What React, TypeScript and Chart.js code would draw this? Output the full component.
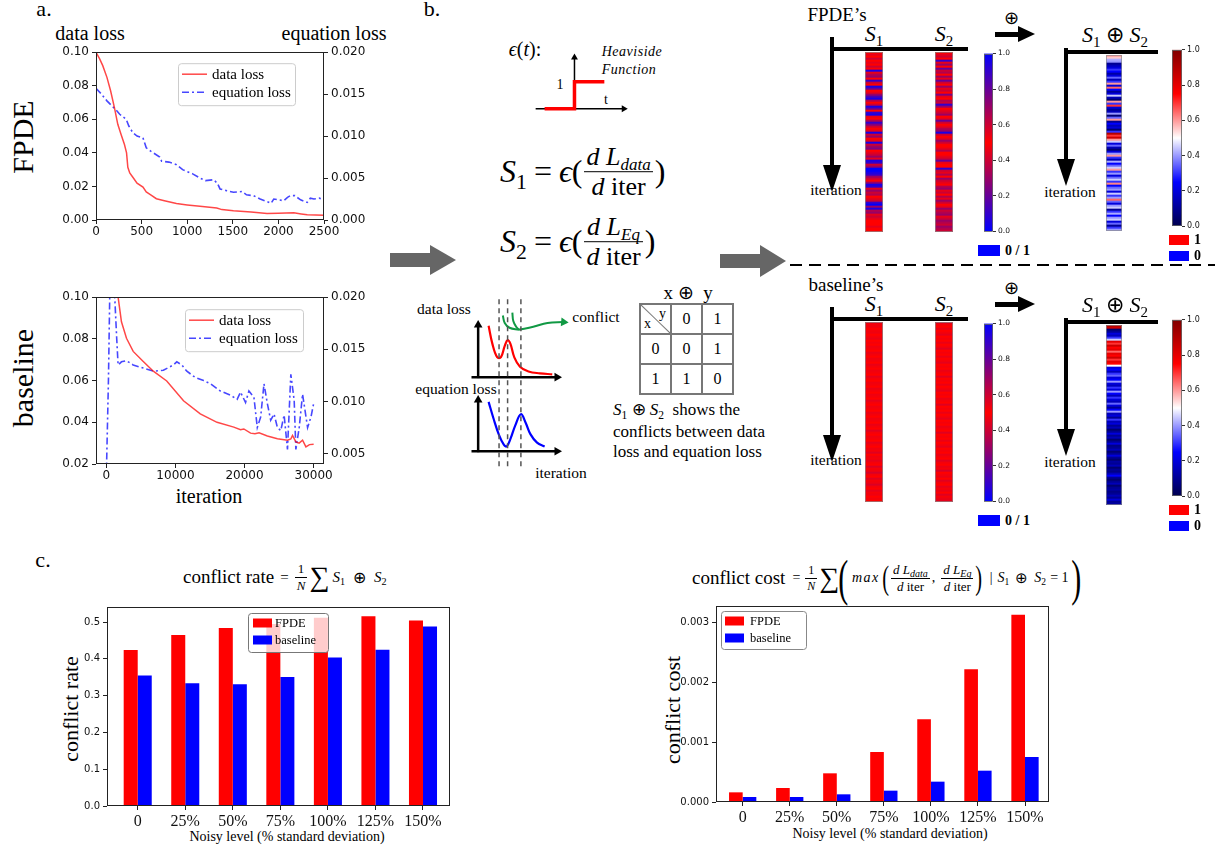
import React, { useEffect, useRef } from 'react';
import { Chart, registerables } from 'chart.js';
Chart.register(...registerables);

const SERIF = "'Liberation Serif', 'Times New Roman', serif";
const SANS = "'DejaVu Sans', sans-serif";

// ---------------- panel a: FPDE loss curves ----------------
const fpdeDataIter = [0, 40, 74, 120, 160, 202, 239, 275, 312, 335, 349, 370, 404, 450, 515, 551, 600, 662, 750, 882, 1000, 1140, 1324, 1380, 1507, 1700, 1875, 2000, 2169, 2250, 2316, 2500];
const fpdeDataLoss = [0.100, 0.096, 0.092, 0.085, 0.077, 0.067, 0.057, 0.051, 0.045, 0.040, 0.0314, 0.028, 0.0255, 0.022, 0.0196, 0.0167, 0.015, 0.0127, 0.0115, 0.0098, 0.009, 0.0082, 0.0072, 0.0062, 0.0055, 0.0047, 0.0039, 0.004, 0.0043, 0.0036, 0.0031, 0.0029];
const fpdeEqIter = [0, 60, 120, 184, 230, 260, 331, 360, 404, 450, 515, 551, 600, 699, 720, 800, 882, 950, 993, 1060, 1140, 1200, 1287, 1330, 1360, 1430, 1507, 1600, 1650, 1728, 1800, 1875, 1920, 1949, 2000, 2059, 2100, 2132, 2180, 2243, 2316, 2350, 2390, 2450, 2500];
const fpdeEqLoss = [0.0157, 0.0150, 0.0142, 0.0135, 0.0130, 0.0126, 0.0120, 0.0112, 0.0104, 0.0100, 0.0098, 0.0086, 0.0082, 0.0075, 0.0070, 0.0069, 0.0066, 0.0060, 0.0058, 0.0055, 0.0050, 0.0047, 0.0048, 0.0044, 0.0037, 0.0035, 0.0033, 0.0034, 0.0030, 0.0029, 0.0025, 0.0022, 0.0020, 0.0025, 0.0024, 0.0023, 0.0027, 0.0029, 0.0029, 0.0024, 0.0021, 0.0026, 0.0025, 0.0026, 0.0024];

// ---------------- panel a: baseline loss curves ----------------
const baseDataIter = [800, 1700, 2184, 2913, 3883, 5340, 6796, 8738, 11165, 13592, 16019, 18447, 19417, 19900, 20874, 21500, 22100, 23301, 24757, 26214, 26700, 26942, 27427, 27900, 28398, 28883, 29400, 30000];
const baseDataLoss = [0.14, 0.100, 0.0882, 0.0803, 0.0740, 0.0692, 0.0645, 0.0598, 0.0503, 0.0440, 0.0400, 0.0377, 0.0364, 0.0368, 0.0348, 0.0345, 0.0350, 0.0334, 0.0321, 0.0314, 0.0320, 0.0337, 0.0306, 0.0300, 0.0314, 0.0282, 0.0293, 0.0295];
const baseEqIter = [0, 300, 485, 700, 1000, 1213, 1500, 1700, 2184, 2913, 3883, 5340, 6796, 8252, 9709, 10194, 10922, 11650, 12864, 14077, 15048, 16505, 17961, 18932, 19417, 20146, 20631, 21359, 21845, 22330, 22816, 23301, 23786, 24272, 24757, 25243, 25728, 26214, 26699, 27184, 27427, 27913, 28398, 29126, 29612, 30000];
const baseEqLoss = [0.0030, 0.0120, 0.0200, 0.0240, 0.0220, 0.0200, 0.0160, 0.0135, 0.0138, 0.0139, 0.0135, 0.0132, 0.0129, 0.0130, 0.0135, 0.0138, 0.0135, 0.0129, 0.0123, 0.0120, 0.0117, 0.0110, 0.0106, 0.0102, 0.0109, 0.0099, 0.0110, 0.0104, 0.0075, 0.0085, 0.0117, 0.0098, 0.0082, 0.0088, 0.0075, 0.0072, 0.0087, 0.0054, 0.0126, 0.0101, 0.0054, 0.0075, 0.0107, 0.0075, 0.0085, 0.0098];

const fpdeXTicks = [0, 500, 1000, 1500, 2000, 2500];
const fpdeYTicks = [0, 0.02, 0.04, 0.06, 0.08, 0.10];
const fpdeY1Ticks = [0, 0.005, 0.01, 0.015, 0.02];
const baseXTicks = [0, 10000, 20000, 30000];
const baseYTicks = [0.02, 0.04, 0.06, 0.08, 0.10];
const baseY1Ticks = [0.005, 0.01, 0.015, 0.02];

// ---------------- panel c: bars ----------------
const noiseLevels = ['0', '25%', '50%', '75%', '100%', '125%', '150%'];
const rateFPDE = [0.424, 0.465, 0.484, 0.495, 0.512, 0.516, 0.504];
const rateBaseline = [0.355, 0.334, 0.331, 0.351, 0.404, 0.425, 0.488];
const costFPDE = [0.000161, 0.000233, 0.000478, 0.000833, 0.001378, 0.002211, 0.003122];
const costBaseline = [0.000083, 0.000083, 0.000128, 0.000189, 0.000339, 0.000522, 0.00075];
const rateTicks = [0, 0.1, 0.2, 0.3, 0.4, 0.5];
const costTicks = [0, 0.001, 0.002, 0.003];
const cbarTicks = [0, 0.2, 0.4, 0.6, 0.8, 1.0];

// ---------------- panel b: stripes (values on the colour maps) ----------------
const fpdeS1 = [0.5, 0.45, 0.5, 0.4, 0.5, 0.45, 0.5, 0.4, 0.5, 0.05, 0.45, 0.35, 0.3, 0.5, 0.1, 0.4, 0.5, 0.05, 0.2, 0.5, 0.45, 0.3, 0.15, 0.05, 0.35, 0.5, 0.4, 0.05, 0.2, 0.5, 0.1, 0.05, 0.45, 0.5, 0.35, 0.1, 0.25, 0.4, 0.5, 0.45, 0.05, 0.4, 0.3, 0.5, 0.45, 0.05, 0.4, 0.3, 0.25, 0.5, 0.45, 0.4, 0.3, 0.45, 0.05, 0.1, 0.4, 0.3, 0.0, 0.0, 0.05, 0.1, 0.3, 0.4, 0.5, 0.3, 0.05, 0.1, 0.45, 0.3, 0.4, 0.35, 0.5, 0.45, 0.4, 0.1, 0.0, 0.3, 0.05, 0.35, 0.3, 0.45, 0.4, 0.45, 0.5, 0.5, 0.5, 0.45, 0.5, 0.5];
const fpdeS2 = [0.5, 0.45, 0.4, 0.5, 0.1, 0.45, 0.3, 0.5, 0.2, 0.4, 0.35, 0.5, 0.3, 0.45, 0.2, 0.4, 0.5, 0.3, 0.45, 0.4, 0.5, 0.25, 0.45, 0.5, 0.35, 0.4, 0.1, 0.3, 0.5, 0.45, 0.4, 0.3, 0.5, 0.45, 0.2, 0.4, 0.5, 0.45, 0.35, 0.3, 0.05, 0.4, 0.5, 0.45, 0.3, 0.4, 0.5, 0.5, 0.45, 0.35, 0.5, 0.5, 0.45, 0.4, 0.2, 0.45, 0.5, 0.5, 0.1, 0.4, 0.45, 0.35, 0.5, 0.3, 0.4, 0.45, 0.5, 0.35, 0.3, 0.45, 0.4, 0.5, 0.35, 0.45, 0.3, 0.4, 0.5, 0.45, 0.3, 0.4, 0.35, 0.3, 0.45, 0.4, 0.3, 0.35, 0.4, 0.3, 0.35, 0.4];
const fpdeXor = [0.6, 0.55, 0.42, 0.4, 0.1, 0.15, 0.2, 0.3, 0.25, 0.12, 0.2, 0.35, 0.15, 0.3, 0.6, 0.2, 0.65, 0.25, 0.1, 0.2, 0.45, 0.15, 0.05, 0.6, 0.3, 0.7, 0.2, 0.1, 0.15, 0.4, 0.05, 0.35, 0.6, 0.1, 0.25, 0.15, 0.2, 0.05, 0.3, 0.9, 0.7, 0.85, 0.6, 0.45, 0.2, 0.35, 0.15, 0.05, 0.2, 0.4, 0.6, 0.3, 0.15, 0.42, 0.25, 0.35, 0.45, 0.6, 0.3, 0.4, 0.2, 0.35, 0.45, 0.3, 0.62, 0.25, 0.35, 0.4, 0.2, 0.45, 0.3, 0.4, 0.65, 0.35, 0.2, 0.4, 0.45, 0.1, 0.3, 0.42, 0.25, 0.4, 0.45, 0.2, 0.35, 0.1, 0.3, 0.4];
const baseS1 = [0.46, 0.48, 0.47, 0.5, 0.48, 0.47, 0.5, 0.48, 0.46, 0.5, 0.48, 0.5, 0.47, 0.48, 0.5, 0.46, 0.48, 0.5, 0.47, 0.48, 0.5, 0.46, 0.48, 0.5, 0.47, 0.48, 0.5, 0.45, 0.48, 0.5, 0.47, 0.48, 0.5, 0.46, 0.48, 0.5, 0.47, 0.48, 0.5, 0.45, 0.48, 0.5, 0.47, 0.48, 0.5, 0.46, 0.48, 0.5, 0.47, 0.48, 0.5, 0.46, 0.48, 0.5, 0.44, 0.48, 0.5, 0.47, 0.48, 0.5, 0.45, 0.48, 0.5, 0.47, 0.48, 0.44, 0.5, 0.47, 0.48, 0.45, 0.48, 0.5, 0.43, 0.48, 0.47, 0.42, 0.48, 0.5, 0.44, 0.48, 0.47, 0.43, 0.48, 0.5, 0.45, 0.48, 0.47, 0.5, 0.48, 0.5];
const baseS2 = [0.44, 0.48, 0.5, 0.46, 0.5, 0.48, 0.45, 0.5, 0.48, 0.5, 0.46, 0.5, 0.48, 0.44, 0.5, 0.48, 0.5, 0.46, 0.5, 0.48, 0.45, 0.5, 0.48, 0.5, 0.46, 0.48, 0.5, 0.44, 0.5, 0.48, 0.5, 0.46, 0.5, 0.48, 0.45, 0.5, 0.48, 0.5, 0.46, 0.48, 0.5, 0.44, 0.5, 0.48, 0.5, 0.46, 0.5, 0.48, 0.45, 0.5, 0.48, 0.5, 0.46, 0.48, 0.5, 0.44, 0.5, 0.48, 0.5, 0.46, 0.5, 0.48, 0.45, 0.5, 0.48, 0.5, 0.46, 0.48, 0.5, 0.44, 0.48, 0.5, 0.46, 0.48, 0.42, 0.5, 0.48, 0.46, 0.5, 0.44, 0.48, 0.5, 0.45, 0.48, 0.46, 0.5, 0.44, 0.48, 0.46, 0.45];
const baseXor = [0.9, 0.85, 0.05, 0.1, 0.2, 0.15, 0.3, 0.45, 0.8, 0.7, 0.85, 0.75, 0.8, 0.65, 0.8, 0.75, 0.85, 0.7, 0.8, 0.75, 0.5, 0.2, 0.25, 0.15, 0.3, 0.35, 0.2, 0.25, 0.4, 0.2, 0.15, 0.3, 0.2, 0.4, 0.25, 0.15, 0.3, 0.2, 0.15, 0.35, 0.2, 0.1, 0.25, 0.4, 0.15, 0.2, 0.1, 0.3, 0.15, 0.2, 0.1, 0.15, 0.05, 0.1, 0.2, 0.1, 0.15, 0.05, 0.1, 0.2, 0.08, 0.1, 0.15, 0.05, 0.1, 0.2, 0.1, 0.05, 0.12, 0.1, 0.15, 0.05, 0.1, 0.08, 0.15, 0.25, 0.1, 0.05, 0.1, 0.15, 0.05, 0.1, 0.12, 0.08, 0.1, 0.15, 0.1, 0.2, 0.1, 0.12];

// ---------------- panel b: schematic sketches ----------------
const heavisideT = [-1, 0, 0, 1];
const heavisideV = [0, 0, 1, 1];
const sketchDataLoss = [[88, 43], [92, 62], [97, 76], [101, 76], [105, 64], [108, 58], [111, 62], [115, 76], [121, 86], [130, 91], [142, 93], [155, 94]];
const sketchEqLoss = [[88, 123], [93, 140], [99, 158], [104, 168], [107, 170], [111, 162], [116, 148], [122, 136], [127, 145], [132, 157], [139, 166], [147, 170]];
const sketchConflictA = [[103, 32], [105, 40], [110, 45], [120, 47]];
const sketchConflictB = [[113, 29], [114, 38], [117, 44], [120, 47]];
const sketchConflictArrow = [[120, 47], [135, 44], [150, 40], [167, 39]];
const sketchMarks = [99, 108, 122];
const xorRows = [['0', '0', '1'], ['1', '1', '0']];

type RGB = [number, number, number];
const stripeStops: [number, RGB][] = [[0, [0, 0, 255]], [0.5, [255, 0, 0]], [1, [0, 0, 255]]];
const seismicStops: [number, RGB][] = [[0, [0, 0, 77]], [0.25, [0, 0, 255]], [0.5, [255, 255, 255]], [0.75, [255, 0, 0]], [1, [128, 0, 0]]];

function colorAt(stops: [number, RGB][], v: number) {
  for (let i = 1; i < stops.length; i++) {
    if (v <= stops[i][0]) {
      const [a, ca] = stops[i - 1];
      const [b, cb] = stops[i];
      const t = (v - a) / (b - a);
      return `rgb(${ca.map((c, k) => Math.round(c + (cb[k] - c) * t)).join(',')})`;
    }
  }
  return `rgb(${stops[stops.length - 1][1].join(',')})`;
}

// ---------------- chart helpers ----------------
const framePlugin = (color = '#222', width = 1) => ({
  id: 'frame',
  afterDraw(chart: any) {
    const { ctx, chartArea: a } = chart;
    ctx.save();
    ctx.strokeStyle = color;
    ctx.lineWidth = width;
    ctx.strokeRect(Math.round(a.left) + 0.5, Math.round(a.top) + 0.5, Math.round(a.right - a.left) - 1, Math.round(a.bottom - a.top) - 1);
    ctx.restore();
  },
});

const boxLegend = (cfg: any) => ({
  id: 'boxLegend',
  afterDraw(chart: any) {
    const { ctx, chartArea: a } = chart;
    const x = a.left + cfg.x, y = a.top + cfg.y;
    ctx.save();
    ctx.beginPath();
    ctx.roundRect(x + 0.5, y + 0.5, cfg.w, cfg.h, 3);
    ctx.fillStyle = 'rgba(255,255,255,0.8)';
    ctx.fill();
    ctx.strokeStyle = cfg.border;
    ctx.lineWidth = 1;
    ctx.stroke();
    ctx.font = `${cfg.size}px ${SERIF}`;
    ctx.textBaseline = 'middle';
    chart.data.datasets.forEach((ds: any, i: number) => {
      const ry = y + cfg.padTop + i * cfg.rowH;
      const sx = x + cfg.padLeft;
      if (cfg.kind === 'line') {
        ctx.strokeStyle = ds.borderColor;
        ctx.lineWidth = ds.borderWidth;
        ctx.setLineDash(ds.borderDash || []);
        ctx.beginPath();
        ctx.moveTo(sx, ry);
        ctx.lineTo(sx + cfg.sw, ry);
        ctx.stroke();
        ctx.setLineDash([]);
      } else {
        ctx.fillStyle = ds.backgroundColor;
        ctx.fillRect(sx, ry - cfg.sh / 2, cfg.sw, cfg.sh);
      }
      ctx.fillStyle = '#000';
      ctx.fillText(ds.label, sx + cfg.sw + cfg.gap, ry + 1);
    });
    ctx.restore();
  },
});

function linAxis(pos: string, min: number, max: number, ticks: number[], fmt: (v: number) => string, size: number, font: any, pad = 3) {
  return {
    type: 'linear', position: pos, min, max, offset: false,
    afterBuildTicks: (s: any) => { s.ticks = ticks.map((v) => ({ value: v })); },
    afterFit: (s: any) => { if (pos === 'bottom') s.height = size; else s.width = size; },
    ticks: { autoSkip: false, maxRotation: 0, minRotation: 0, color: '#111', font, padding: pad, callback: (v: any) => fmt(Number(v)) },
    grid: { display: true, drawOnChartArea: false, drawTicks: true, tickLength: 4, color: '#222', offset: false },
    border: { display: false },
  };
}

function lossConfig(o: any) {
  return {
    type: 'line',
    data: {
      datasets: [
        { label: 'data loss', data: o.dx.map((x: number, i: number) => ({ x, y: o.dy[i] })), yAxisID: 'y', borderColor: 'rgba(255,0,0,0.72)', borderWidth: 1.5, pointRadius: 0, tension: 0 },
        { label: 'equation loss', data: o.ex.map((x: number, i: number) => ({ x, y: o.ey[i] })), yAxisID: 'y1', borderColor: 'rgba(0,0,255,0.72)', borderWidth: 1.6, borderDash: [7, 3, 2, 3], pointRadius: 0, tension: 0 },
      ],
    },
    options: {
      responsive: false, animation: false,
      layout: { padding: { top: 8, left: 0, right: 0, bottom: 0 } },
      plugins: { legend: { display: false }, tooltip: { enabled: false } },
      scales: {
        x: linAxis('bottom', o.xMin, o.xMax, o.xTicks, (v) => String(v), o.xH, { family: SANS, size: 12 }, 1),
        y: linAxis('left', o.yMin, o.yMax, o.yTicks, (v) => v.toFixed(2), 56, { family: SANS, size: 12 }),
        y1: linAxis('right', o.y1Min, o.y1Max, o.y1Ticks, (v) => v.toFixed(3), 56, { family: SANS, size: 12 }),
      },
    },
    plugins: [framePlugin('#222'), boxLegend({ ...o.legend, kind: 'line', size: 15, border: '#ccc', padLeft: 4, sw: 25, gap: 5, padTop: 11, rowH: 18 })],
  };
}

function barConfig(o: any) {
  const xs = noiseLevels.map((_, i) => i);
  return {
    type: 'bar',
    data: {
      datasets: [
        { label: 'FPDE', data: o.a.map((y: number, x: number) => ({ x, y })), backgroundColor: '#ff0000', categoryPercentage: o.cp, barPercentage: 1 },
        { label: 'baseline', data: o.b.map((y: number, x: number) => ({ x, y })), backgroundColor: '#0000ff', categoryPercentage: o.cp, barPercentage: 1 },
      ],
    },
    options: {
      responsive: false, animation: false,
      layout: { padding: { top: 10, right: 10, left: 0, bottom: 0 } },
      plugins: { legend: { display: false }, tooltip: { enabled: false } },
      scales: {
        x: linAxis('bottom', o.xMin, o.xMax, xs, (v) => noiseLevels[Math.round(v)], o.xH, { family: SERIF, size: 16 }, 2),
        y: linAxis('left', 0, o.yMax, o.yTicks, o.fmt, o.leftW, { family: SANS, size: 10 }),
      },
    },
    plugins: [framePlugin('#222'), boxLegend({ ...o.legend, kind: 'rect', size: 12.5, sh: 9, sw: 19, rowH: 17 })],
  };
}

function stripeConfig(vals: number[], stops: [number, RGB][]) {
  return {
    type: 'bar',
    data: {
      labels: vals.map((_, i) => String(i)),
      datasets: [{ data: vals.map(() => 1), backgroundColor: vals.map((v) => colorAt(stops, v)), categoryPercentage: 1, barPercentage: 1, borderWidth: 0 }],
    },
    options: {
      indexAxis: 'y', responsive: false, animation: false,
      layout: { padding: 0 },
      plugins: { legend: { display: false }, tooltip: { enabled: false } },
      scales: { x: { display: false, min: 0, max: 1 }, y: { display: false } },
    },
    plugins: [framePlugin('rgba(140,140,140,0.7)', 1)],
  };
}

function cbarConfig(stops: [number, RGB][], size: number) {
  return {
    type: 'bar',
    data: {
      labels: [''],
      datasets: [{
        data: [1],
        backgroundColor: (c: any) => {
          const a = c.chart.chartArea;
          if (!a) return '#00f';
          const g = c.chart.ctx.createLinearGradient(0, a.bottom, 0, a.top);
          stops.forEach(([o, col]) => g.addColorStop(o, `rgb(${col.join(',')})`));
          return g;
        },
        categoryPercentage: 1, barPercentage: 1, borderWidth: 0,
      }],
    },
    options: {
      responsive: false, animation: false,
      layout: { padding: { top: 5, bottom: 5, left: 0, right: 0 } },
      plugins: { legend: { display: false }, tooltip: { enabled: false } },
      scales: {
        x: { display: false },
        y: { ...linAxis('right', 0, 1, cbarTicks, (v) => v.toFixed(1), 24, { family: SANS, size }, 2), grid: { display: true, drawOnChartArea: false, tickLength: 3, color: '#333' } },
      },
    },
    plugins: [framePlugin('#666', 0.8)],
  };
}

function sketchConfig(lines: any[], xMin: number, xMax: number, yMin: number, yMax: number, reverse: boolean) {
  return {
    type: 'scatter',
    data: {
      datasets: lines.map((l) => ({
        data: l.pts.map(([x, y]: number[]) => ({ x, y })),
        showLine: true,
        borderColor: l.color, borderWidth: l.width, borderDash: l.dash || [],
        tension: l.tension || 0,
        pointRadius: l.pts.map((_: any, i: number) => (l.arrow !== undefined && i === l.pts.length - 1 ? (l.head || 5) : 0)),
        pointStyle: 'triangle', pointRotation: l.arrow || 0,
        pointBackgroundColor: l.color, pointBorderColor: l.color, pointBorderWidth: 0,
        clip: false,
      })),
    },
    options: {
      responsive: false, animation: false,
      layout: { padding: 0 },
      plugins: { legend: { display: false }, tooltip: { enabled: false } },
      scales: {
        x: { type: 'linear', display: false, min: xMin, max: xMax },
        y: { type: 'linear', display: false, min: yMin, max: yMax, reverse },
      },
    },
  };
}

function ChartBox({ x, y, w, h, make }: any) {
  const ref = useRef<HTMLCanvasElement>(null);
  useEffect(() => {
    const chart = new Chart(ref.current as any, make());
    return () => chart.destroy();
  }, []);
  return (
    <div style={{ position: 'absolute', left: x, top: y, width: w, height: h }}>
      <canvas ref={ref} width={w} height={h} style={{ width: w, height: h, display: 'block' }} />
    </div>
  );
}

// ---------------- HTML helpers ----------------
function Cen({ cx, cy, s = 16, rot = 0, children, style }: any) {
  return (
    <div style={{ position: 'absolute', left: cx, top: cy, transform: `translate(-50%,-50%) rotate(${rot}deg)`, fontSize: s, lineHeight: 1, whiteSpace: 'nowrap', fontFamily: SERIF, ...style }}>
      {children}
    </div>
  );
}
function Box({ x, y, w, h, bg, style }: any) {
  return <div style={{ position: 'absolute', left: x, top: y, width: w, height: h, background: bg, ...style }} />;
}
function VArrow({ x, y1, y2, w = 4, hw = 18, hh = 27, color = '#000' }: any) {
  return (
    <>
      <Box x={x - w / 2} y={y1} w={w} h={y2 - y1 - hh + 2} bg={color} />
      <div style={{ position: 'absolute', left: x - hw / 2, top: y2 - hh, width: 0, height: 0, borderLeft: `${hw / 2}px solid transparent`, borderRight: `${hw / 2}px solid transparent`, borderTop: `${hh}px solid ${color}` }} />
    </>
  );
}
function HArrow({ x1, x2, y, w = 4, hw = 16, hh = 18, color = '#000' }: any) {
  return (
    <>
      <Box x={x1} y={y - w / 2} w={x2 - x1 - hh + 2} h={w} bg={color} />
      <div style={{ position: 'absolute', left: x2 - hh, top: y - hw / 2, width: 0, height: 0, borderTop: `${hw / 2}px solid transparent`, borderBottom: `${hw / 2}px solid transparent`, borderLeft: `${hh}px solid ${color}` }} />
    </>
  );
}
function SI({ n, s }: any) {
  return (
    <span style={{ fontSize: s, whiteSpace: 'nowrap' }}>
      <i>S</i>
      <span style={{ fontSize: s * 0.68, position: 'relative', top: s * 0.22 }}>{n}</span>
    </span>
  );
}
function Frac({ num, den, size, margin = '0 2px' }: any) {
  return (
    <span style={{ display: 'inline-flex', flexDirection: 'column', alignItems: 'center', fontSize: size, lineHeight: 1.05, margin }}>
      <span style={{ padding: '0 2px 1px' }}>{num}</span>
      <span style={{ alignSelf: 'stretch', borderTop: '1.3px solid #000' }} />
      <span style={{ padding: '1px 2px 0' }}>{den}</span>
    </span>
  );
}
function Paren({ s, ch, m = -4 }: any) {
  return <span style={{ fontSize: s, lineHeight: 1, transform: 'scaleX(0.6)', display: 'inline-block', margin: `0 ${m}px` }}>{ch}</span>;
}
function Patch({ x, y, w, h, color, label }: any) {
  return (
    <>
      <Box x={x} y={y} w={w} h={h} bg={color} />
      <div style={{ position: 'absolute', left: x + w + 5, top: y + h / 2, transform: 'translateY(-50%)', fontFamily: SERIF, fontWeight: 'bold', fontSize: 14, lineHeight: 1, whiteSpace: 'nowrap' }}>{label}</div>
    </>
  );
}

function HeatBlock({ dy, s1, s2, xor, label }: any) {
  return (
    <>
      <Cen cx={label === 'FPDE' ? 837 : 846} cy={14 + dy} s={19}>{label === 'FPDE' ? 'FPDE’s' : 'baseline’s'}</Cen>
      <Cen cx={874} cy={34 + dy} s={22}><SI n="1" s={22} /></Cen>
      <Cen cx={944} cy={34 + dy} s={22}><SI n="2" s={22} /></Cen>
      <VArrow x={832} y1={37 + dy} y2={192 + dy} />
      <Box x={832} y={47 + dy} w={136} h={4} bg="#000" />
      <Cen cx={836} cy={190 + dy} s={15.5}>iteration</Cen>
      <Cen cx={1011} cy={18 + dy} s={18}>⊕</Cen>
      <HArrow x1={995} x2={1035} y={34 + dy} w={5} hw={16} hh={17} />
      <Cen cx={1115} cy={35 + dy} s={22}><SI n="1" s={22} /> ⊕ <SI n="2" s={22} /></Cen>
      <VArrow x={1066} y1={48 + dy} y2={186 + dy} />
      <Box x={1066} y={50 + dy} w={92} h={4} bg="#000" />
      <Cen cx={1070} cy={192 + dy} s={15.5}>iteration</Cen>
      <ChartBox x={865} y={52 + dy} w={18} h={180} make={() => stripeConfig(s1, stripeStops)} />
      <ChartBox x={935} y={52 + dy} w={18} h={180} make={() => stripeConfig(s2, stripeStops)} />
      <ChartBox x={984} y={47 + dy} w={33} h={191} make={() => cbarConfig(stripeStops, 7.5)} />
      <ChartBox x={1106} y={55 + dy} w={16} h={xor.length * 2} make={() => stripeConfig(xor, seismicStops)} />
      <ChartBox x={1172} y={43 + dy} w={34} h={190} make={() => cbarConfig(seismicStops, 8)} />
      <Patch x={978} y={245 + dy} w={22} h={11} color="#0000ff" label="0 / 1" />
      <Patch x={1169} y={235 + dy} w={20} h={10} color="#ff0000" label="1" />
      <Patch x={1169} y={251 + dy} w={20} h={10} color="#0000ff" label="0" />
    </>
  );
}

export default function App() {
  const cell = { display: 'flex', alignItems: 'center', justifyContent: 'center', borderRight: '2px solid #777', borderBottom: '2px solid #777', fontSize: 16 } as any;
  return (
    <div style={{ position: 'absolute', left: 0, top: 0, width: 1226, height: 850, background: '#fff', overflow: 'hidden', fontFamily: SERIF, color: '#000' }}>
      {/* ---------- panel a ---------- */}
      <Cen cx={44} cy={9} s={22}>a.</Cen>
      <Cen cx={90} cy={33} s={20}>data loss</Cen>
      <Cen cx={334} cy={33} s={20}>equation loss</Cen>
      <Cen cx={23} cy={137} s={30} rot={-90}>FPDE</Cen>
      <Cen cx={23} cy={378} s={30} rot={-90}>baseline</Cen>
      <Cen cx={209} cy={496} s={20}>iteration</Cen>
      <ChartBox x={40} y={42} w={340} h={200} make={() => lossConfig({
        dx: fpdeDataIter, dy: fpdeDataLoss, ex: fpdeEqIter, ey: fpdeEqLoss,
        xMin: 0, xMax: 2500, xTicks: fpdeXTicks, xH: 22,
        yMin: 0, yMax: 0.1, yTicks: fpdeYTicks, y1Min: 0, y1Max: 0.02, y1Ticks: fpdeY1Ticks,
        legend: { x: 82, y: 11, w: 117, h: 42 },
      })} />
      <ChartBox x={40} y={287} w={340} h={200} make={() => lossConfig({
        dx: baseDataIter, dy: baseDataLoss, ex: baseEqIter, ey: baseEqLoss,
        xMin: -1500, xMax: 31500, xTicks: baseXTicks, xH: 23,
        yMin: 0.02, yMax: 0.1, yTicks: baseYTicks, y1Min: 0.004, y1Max: 0.02, y1Ticks: baseY1Ticks,
        legend: { x: 89, y: 12, w: 118, h: 42 },
      })} />

      {/* ---------- panel b (middle) ---------- */}
      <Cen cx={432} cy={9} s={22}>b.</Cen>
      <Cen cx={525} cy={49} s={20}><i>ϵ</i>(<i>t</i>):</Cen>
      <Cen cx={632} cy={52} s={14} style={{ fontStyle: 'italic', letterSpacing: 0.5 }}>Heaviside</Cen>
      <Cen cx={629} cy={70} s={14} style={{ fontStyle: 'italic', letterSpacing: 0.5 }}>Function</Cen>
      <Cen cx={560} cy={85} s={14}>1</Cen>
      <Cen cx={606} cy={100} s={14}>t</Cen>
      <ChartBox x={520} y={40} w={120} h={80} make={() => sketchConfig([
        { pts: heavisideT.map((t, i) => [t, heavisideV[i]]), color: '#ff0000', width: 3.5 },
        { pts: [[-1.3, 0], [1.65, 0]], color: '#000', width: 1.5, arrow: 90, head: 4 },
        { pts: [[0, 0], [0, 1.9]], color: '#000', width: 1.5, arrow: 0, head: 4 },
      ], -1.69, 2.06, -0.27, 2.4, false)} />

      <div style={{ position: 'absolute', left: 500, top: 172, transform: 'translateY(-50%)', display: 'flex', alignItems: 'center', fontSize: 32, whiteSpace: 'nowrap' }}>
        <SI n="1" s={32} /><span style={{ margin: '0 7px' }}>=</span><i>ϵ</i><span>(</span>
        <Frac size={26} num={<span><i>d</i> <i>L</i><span style={{ fontSize: 17, position: 'relative', top: 5 }}><i>data</i></span></span>} den={<span><i>d</i> iter</span>} />
        <span>)</span>
      </div>
      <div style={{ position: 'absolute', left: 500, top: 242, transform: 'translateY(-50%)', display: 'flex', alignItems: 'center', fontSize: 32, whiteSpace: 'nowrap' }}>
        <SI n="2" s={32} /><span style={{ margin: '0 7px' }}>=</span><i>ϵ</i><span>(</span>
        <Frac size={26} num={<span><i>d</i> <i>L</i><span style={{ fontSize: 17, position: 'relative', top: 5 }}><i>Eq</i></span></span>} den={<span><i>d</i> iter</span>} />
        <span>)</span>
      </div>

      <HArrow x1={390} x2={456} y={260} w={14} hw={30} hh={26} color="#666" />
      <HArrow x1={720} x2={786} y={261} w={14} hw={32} hh={26} color="#666" />

      <Cen cx={444} cy={309} s={15.5}>data loss</Cen>
      <Cen cx={456} cy={389} s={15.5}>equation loss</Cen>
      <Cen cx={596} cy={317} s={15.5}>conflict</Cen>
      <Cen cx={561} cy={473} s={15.5}>iteration</Cen>
      <ChartBox x={400} y={280} w={200} h={200} make={() => sketchConfig([
        ...sketchMarks.map((m) => ({ pts: [[m, 15], [m, 192]], color: '#555', width: 1.5, dash: [5, 4] })),
        { pts: sketchDataLoss, color: '#ff0000', width: 2.2, tension: 0.4 },
        { pts: sketchEqLoss, color: '#0000ff', width: 2.2, tension: 0.4 },
        { pts: sketchConflictA, color: '#119944', width: 2, tension: 0.4 },
        { pts: sketchConflictB, color: '#119944', width: 2, tension: 0.4 },
        { pts: sketchConflictArrow, color: '#119944', width: 2, tension: 0.4, arrow: 95, head: 5 },
        { pts: [[77, 98], [77, 42]], color: '#000', width: 2.5, arrow: 0, head: 5 },
        { pts: [[70, 97], [160, 97]], color: '#000', width: 2.5, arrow: 90, head: 5 },
        { pts: [[77, 176], [77, 121]], color: '#000', width: 2.5, arrow: 0, head: 5 },
        { pts: [[70, 175], [160, 175]], color: '#000', width: 2.5, arrow: 90, head: 5 },
      ], 0, 200, 0, 200, true)} />

      <Cen cx={688} cy={292} s={19}>x ⊕ &nbsp;y</Cen>
      <div style={{ position: 'absolute', left: 639, top: 303, display: 'grid', gridTemplateColumns: 'repeat(3, 31px)', gridTemplateRows: 'repeat(3, 30px)', borderTop: '2px solid #777', borderLeft: '2px solid #777' }}>
        <div style={{ ...cell, position: 'relative', background: 'linear-gradient(to top right, transparent calc(50% - 1px), #777 50%, transparent calc(50% + 1px))' }}>
          <span style={{ position: 'absolute', right: 4, top: 1, fontSize: 14 }}>y</span>
          <span style={{ position: 'absolute', left: 3, bottom: 1, fontSize: 14 }}>x</span>
        </div>
        <div style={cell}>0</div>
        <div style={cell}>1</div>
        {xorRows.flat().map((v, i) => <div key={i} style={cell}>{v}</div>)}
      </div>
      <div style={{ position: 'absolute', left: 613, top: 400, fontSize: 17, lineHeight: '20px', whiteSpace: 'nowrap' }}>
        <div><SI n="1" s={17} /> ⊕ <SI n="2" s={17} />&nbsp; shows the</div>
        <div>conflicts between data</div>
        <div>loss and equation loss</div>
      </div>

      {/* ---------- panel b (right): heatmaps ---------- */}
      <HeatBlock dy={0} s1={fpdeS1} s2={fpdeS2} xor={fpdeXor} label="FPDE" />
      <div style={{ position: 'absolute', left: 790, top: 264, width: 425, height: 2, background: 'repeating-linear-gradient(90deg, #000 0 12px, transparent 12px 19px)' }} />
      <HeatBlock dy={270} s1={baseS1} s2={baseS2} xor={baseXor} label="baseline" />

      {/* ---------- panel c ---------- */}
      <Cen cx={43} cy={560} s={22}>c.</Cen>
      <div style={{ position: 'absolute', left: 183, top: 577, transform: 'translateY(-50%)', display: 'flex', alignItems: 'center', whiteSpace: 'nowrap' }}>
        <span style={{ fontSize: 19 }}>conflict rate</span>
        <span style={{ fontSize: 15, margin: '0 4px 0 6px' }}>=</span>
        <Frac size={13} num="1" den={<i>N</i>} />
        <span style={{ fontSize: 28 }}>∑</span>
        <span style={{ marginLeft: 3 }}><SI n="1" s={15} /></span>
        <span style={{ fontSize: 16, margin: '0 8px' }}>⊕</span>
        <SI n="2" s={15} />
      </div>
      <div style={{ position: 'absolute', left: 692, top: 578, transform: 'translateY(-50%)', display: 'flex', alignItems: 'center', whiteSpace: 'nowrap' }}>
        <span style={{ fontSize: 19 }}>conflict cost</span>
        <span style={{ fontSize: 14, margin: '0 3px 0 7px' }}>=</span>
        <Frac size={12} num="1" den={<i>N</i>} />
        <span style={{ fontSize: 28 }}>∑</span>
        <Paren s={50} ch="(" />
        <span style={{ fontSize: 14, fontStyle: 'italic', letterSpacing: 1.5, margin: '0 2px 0 4px' }}>max</span>
        <Paren s={34} ch="(" m={-2} />
        <Frac size={13} num={<span><i>d</i> <i>L</i><span style={{ fontSize: 10, position: 'relative', top: 3 }}><i>data</i></span></span>} den={<span><i>d</i> iter</span>} />
        <span style={{ fontSize: 14 }}>,</span>
        <Frac size={13} margin="0 2px 0 6px" num={<span><i>d</i> <i>L</i><span style={{ fontSize: 10, position: 'relative', top: 3 }}><i>Eq</i></span></span>} den={<span><i>d</i> iter</span>} />
        <Paren s={34} ch=")" m={-2} />
        <span style={{ fontSize: 14, margin: '0 5px 0 7px' }}>|</span>
        <SI n="1" s={14} />
        <span style={{ fontSize: 15, margin: '0 6px' }}>⊕</span>
        <SI n="2" s={14} />
        <span style={{ fontSize: 14, margin: '0 3px 0 4px' }}>= 1</span>
        <Paren s={50} ch=")" />
      </div>

      <Cen cx={71} cy={709} s={22} rot={-90}>conflict rate</Cen>
      <Cen cx={287} cy={837} s={14}>Noisy level (% standard deviation)</Cen>
      <ChartBox x={55} y={597} w={405} h={240} make={() => barConfig({
        a: rateFPDE, b: rateBaseline, cp: 0.59, xMin: -0.646, xMax: 6.568, xH: 31,
        yMax: 0.541, yTicks: rateTicks, fmt: (v: number) => v.toFixed(1), leftW: 52,
        legend: { x: 141, y: 6, w: 80, h: 39, border: '#777', padLeft: 5, gap: 3, padTop: 10 },
      })} />
      <Cen cx={673} cy={710} s={22} rot={-90}>conflict cost</Cen>
      <Cen cx={890} cy={834} s={14}>Noisy level (% standard deviation)</Cen>
      <ChartBox x={650} y={596} w={409} h={240} make={() => barConfig({
        a: costFPDE, b: costBaseline, cp: 0.58, xMin: -0.567, xMax: 6.51, xH: 34,
        yMax: 0.003267, yTicks: costTicks, fmt: (v: number) => v.toFixed(3), leftW: 66,
        legend: { x: 5, y: 5, w: 85, h: 38, border: '#888', padLeft: 4, gap: 6, padTop: 10 },
      })} />
    </div>
  );
}
